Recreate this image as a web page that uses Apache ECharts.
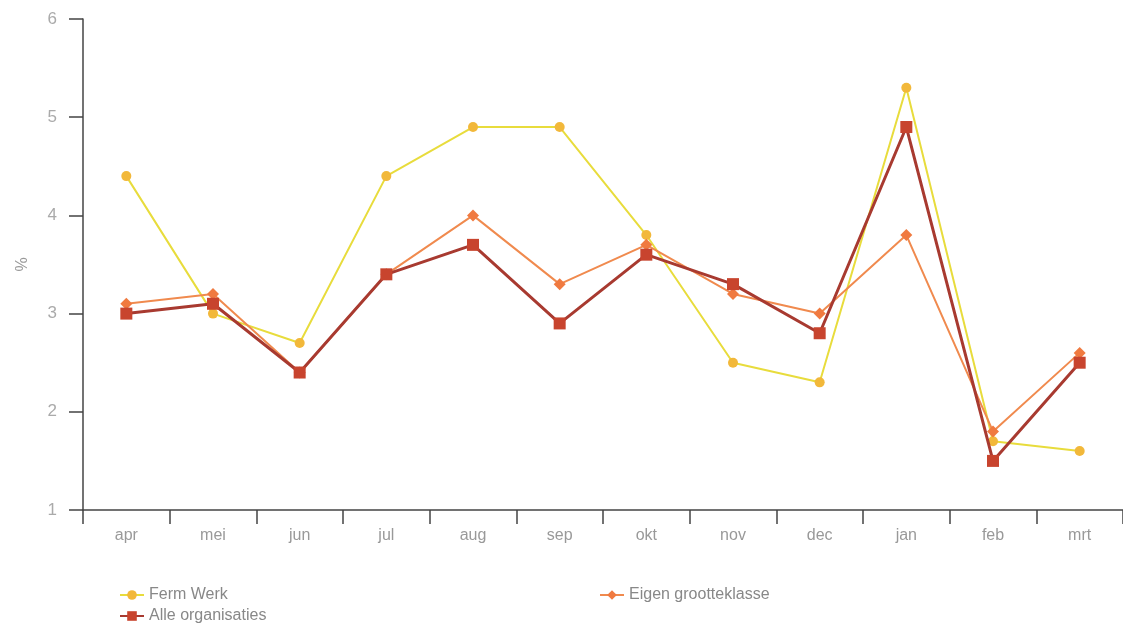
<!DOCTYPE html>
<html><head><meta charset="utf-8">
<script src="https://cdn.jsdelivr.net/npm/echarts@6/dist/echarts.min.js"></script>
<style>html,body{margin:0;padding:0;background:#fff}#c{width:1123px;height:630px}</style>
</head><body><div id="c"></div>
<script>
const categories = ['apr','mei','jun','jul','aug','sep','okt','nov','dec','jan','feb','mrt'];
const fermWerk = [4.4, 3.0, 2.7, 4.4, 4.9, 4.9, 3.8, 2.5, 2.3, 5.3, 1.7, 1.6];
const eigenGroot = [3.1, 3.2, 2.4, 3.4, 4.0, 3.3, 3.7, 3.2, 3.0, 3.8, 1.8, 2.6];
const alleOrg = [3.0, 3.1, 2.4, 3.4, 3.7, 2.9, 3.6, 3.3, 2.8, 4.9, 1.5, 2.5];
const yTicks = [1, 6, 1];

const font = "'Liberation Sans Narrow', 'Liberation Sans', Arial, sans-serif";
const chart = echarts.init(document.getElementById('c'));
const legendText = {color:'#888', fontSize:16, fontFamily:font};
chart.setOption({
  animation:false,
  textStyle:{fontFamily:font},
  grid:{left:83, top:19, width:1044, height:491, containLabel:false},
  legend:[
    {data:['Ferm Werk'], left:114, top:582, itemWidth:24, itemHeight:12, textStyle:legendText},
    {data:['Eigen grootteklasse'], left:594, top:582, itemWidth:24, itemHeight:12, textStyle:legendText},
    {data:['Alle organisaties'], left:114, top:603, itemWidth:24, itemHeight:12, textStyle:legendText}
  ],
  xAxis:{type:'category', data:categories, boundaryGap:true,
    axisLine:{lineStyle:{color:'#444', width:1.5}},
    axisTick:{show:true, length:14, inside:false, lineStyle:{color:'#444', width:1.5}},
    axisLabel:{color:'#999', fontSize:16, margin:18, fontFamily:font}},
  yAxis:{type:'value', min:yTicks[0], max:yTicks[1], interval:yTicks[2],
    name:'%', nameLocation:'middle', nameGap:52, nameRotate:90,
    nameTextStyle:{color:'#999', fontSize:16, fontFamily:font},
    splitLine:{show:false},
    axisLine:{show:true, lineStyle:{color:'#444', width:1.5}},
    axisTick:{show:true, length:14, lineStyle:{color:'#444', width:1.5}},
    axisLabel:{color:'#aaa', fontSize:17, margin:26, fontFamily:font}},
  series:[
    {name:'Ferm Werk', type:'line', data:fermWerk, symbol:'circle', symbolSize:10,
      lineStyle:{color:'#e8dc3c', width:2}, itemStyle:{color:'#f2b83a'}, z:2},
    {name:'Eigen grootteklasse', type:'line', data:eigenGroot, symbol:'diamond', symbolSize:12,
      lineStyle:{color:'#f08a4e', width:2}, itemStyle:{color:'#f07a40'}, z:3},
    {name:'Alle organisaties', type:'line', data:alleOrg, symbol:'rect', symbolSize:12,
      lineStyle:{color:'#a83a30', width:3}, itemStyle:{color:'#c8442e'}, z:4}
  ]
});
</script></body></html>
